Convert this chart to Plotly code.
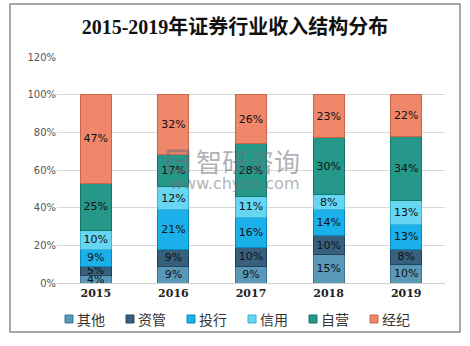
import plotly.graph_objects as go

years = ["2015", "2016", "2017", "2018", "2019"]
series_names = ["其他", "资管", "投行", "信用", "自营", "经纪"]
other = [4, 9, 9, 15, 10]
asset_mgmt = [5, 9, 10, 10, 8]
ib = [9, 21, 16, 14, 13]
credit = [10, 12, 11, 8, 13]
proprietary = [25, 17, 28, 30, 34]
brokerage = [47, 32, 26, 23, 22]
y_ticks = [0, 20, 40, 60, 80, 100, 120]
y_tick_labels = ["0%", "20%", "40%", "60%", "80%", "100%", "120%"]

series_values = [other, asset_mgmt, ib, credit, proprietary, brokerage]
fill_colors = ["#5a98b8", "#36607e", "#1ab0ea", "#66d6f2", "#26988a", "#f0876a"]
edge_colors = ["#3f7595", "#22435c", "#0b88bb", "#3fb3d1", "#16766a", "#c9664a"]

# plot-area geometry in pixels (used for the frame, legend row and watermark)
W, H = 470, 346
M_L, M_R, M_T, M_B = 57, 25, 57, 63
PW, PH = W - M_L - M_R, H - M_T - M_B


def px_x(p):
    return (p - M_L) / PW


def px_y(p):
    return (H - M_B - p) / PH


fig = go.Figure()
for name, vals, fc, ec in zip(series_names, series_values, fill_colors, edge_colors):
    fig.add_trace(go.Bar(
        x=years, y=vals, name=name,
        marker=dict(color=fc, line=dict(color=ec, width=1)),
        width=0.4,
        text=[f"{v}%" for v in vals],
        textposition="inside",
        insidetextanchor="middle",
        constraintext="none",
        textangle=0,
        textfont=dict(family="DejaVu Sans", size=11, color="#111111"),
        hoverinfo="skip",
        showlegend=False,
    ))

fig.update_layout(
    barmode="stack",
    width=W, height=H,
    margin=dict(l=M_L, r=M_R, t=M_T, b=M_B, autoexpand=False),
    paper_bgcolor="white", plot_bgcolor="white",
    title=dict(
        text="<b>2015-2019年证券行业收入结构分布</b>",
        x=0.5, xanchor="center", y=0.922, yanchor="middle",
        font=dict(family="Liberation Serif, Noto Sans CJK SC", size=20, color="#111111"),
    ),
    xaxis=dict(
        type="category",
        showline=True, linecolor="#d0d0d0", linewidth=1,
        ticks="", showgrid=False,
        tickfont=dict(family="DejaVu Serif", size=11, color="#222222", weight="bold"),
    ),
    yaxis=dict(
        range=[0, 120], tickmode="array", tickvals=y_ticks, ticktext=y_tick_labels,
        showgrid=True, gridcolor="#d9d9d9", gridwidth=1,
        zeroline=False, showline=False, ticks="",
        tickfont=dict(family="DejaVu Sans", size=10, color="#555555"),
    ),
    showlegend=False,
)

# legend row below the axis
legend_y = 319
for i, (name, fc, ec) in enumerate(zip(series_names, fill_colors, edge_colors)):
    cx = 69 + i * 61
    fig.add_shape(type="rect", xref="paper", yref="paper",
                  x0=px_x(cx - 4), x1=px_x(cx + 4), y0=px_y(legend_y + 4), y1=px_y(legend_y - 4),
                  line=dict(color=ec, width=1), fillcolor=fc)
    fig.add_annotation(text=name, xref="paper", yref="paper", x=px_x(cx + 6), y=px_y(legend_y),
                       xanchor="left", yanchor="middle", showarrow=False,
                       font=dict(family="Noto Sans CJK SC", size=14, color="#333333"))

# chart frame
fig.add_shape(type="rect", xref="paper", yref="paper",
              x0=px_x(10), x1=px_x(460), y0=px_y(332), y1=px_y(4),
              line=dict(color="#8c8c8c", width=1.5), fillcolor="rgba(0,0,0,0)", layer="below")

# site watermark: logo mark plus name and address
wm = "rgba(110,110,120,0.55)"
fig.add_shape(type="rect", xref="paper", yref="paper",
              x0=px_x(168), x1=px_x(188), y0=px_y(171), y1=px_y(151),
              line=dict(color=wm, width=3), fillcolor="rgba(0,0,0,0)")
fig.add_shape(type="line", xref="paper", yref="paper",
              x0=px_x(174), x1=px_x(188), y0=px_y(161), y1=px_y(161),
              line=dict(color=wm, width=3))
fig.add_annotation(text="智研咨询", xref="paper", yref="paper", x=px_x(248), y=px_y(160),
                   showarrow=False, font=dict(family="Noto Sans CJK SC", size=26, color=wm))
fig.add_annotation(text="www.chyxx.com", xref="paper", yref="paper", x=px_x(234), y=px_y(183),
                   showarrow=False, font=dict(family="DejaVu Sans", size=16, color=wm))

fig.write_html("out.html")
